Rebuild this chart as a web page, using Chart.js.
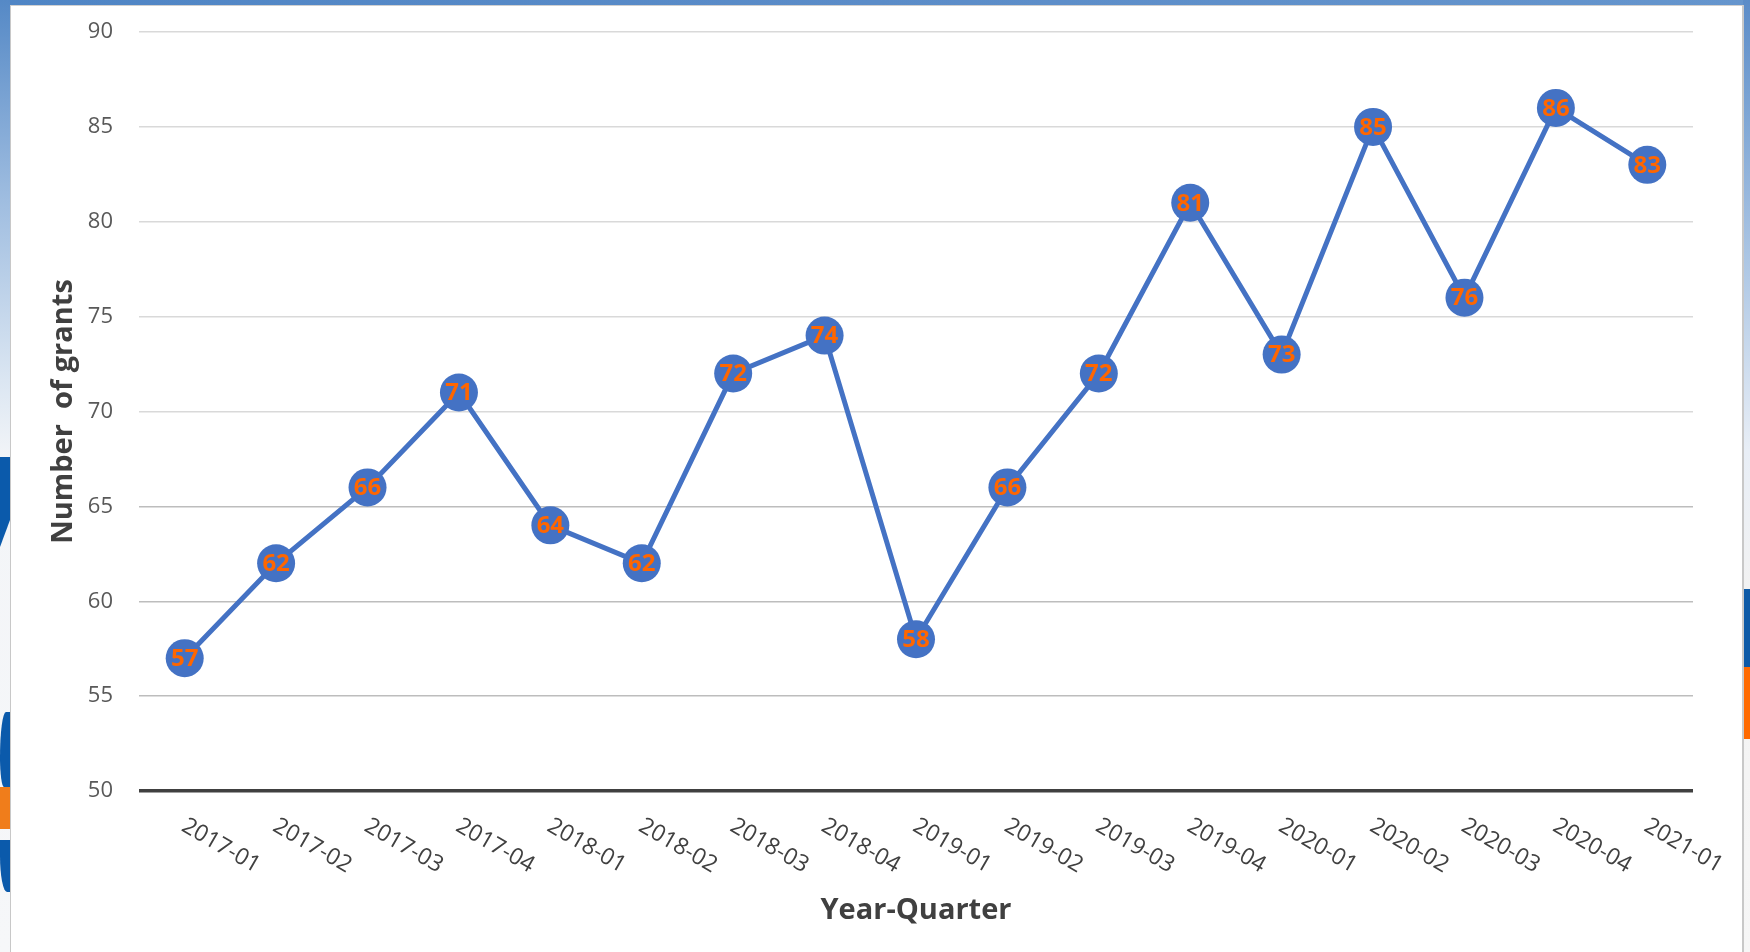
<!DOCTYPE html>
<html>
<head>
<meta charset="utf-8">
<script src="https://cdn.jsdelivr.net/npm/chart.js@4.4.1/dist/chart.umd.min.js"></script>
<style>
  html, body { margin: 0; padding: 0; width: 1750px; height: 952px; overflow: hidden; background: #ffffff; }
  .frame { position: absolute; }
  #topstrip { left: 0; top: 0; width: 1750px; height: 5px; background: linear-gradient(to right, #4f85c5, #5b8cc8 50%, #6595cd); }
  #leftstrip { left: 0; top: 0; width: 10px; height: 952px; background: linear-gradient(to bottom, #5589c6 0px, #9fbde0 200px, #dbe6f2 380px, #f3f5f8 460px, #f6f7f9 952px); }
  #rightstrip { left: 1743px; top: 0; width: 7px; height: 952px; background: linear-gradient(to bottom, #5b8cc8 0px, #a9c4e3 250px, #e8eef6 450px, #f2f2f2 590px, #f6f6f6 952px); }
  #panel { left: 10px; top: 5px; width: 1731px; height: 960px; background: #ffffff; border-left: 1px solid #c8c8c8; border-top: 1px solid #d0d0d0; border-right: 2px solid #c8c8c8; }
  #lblue1 { left: 0; top: 457px; width: 10px; height: 90px; background: #0b5aab; clip-path: polygon(0 0, 100% 0, 100% 70%, 0 100%); }
  #lblue2 { left: 0; top: 712px; width: 10px; height: 75px; background: #0b5aab; border-radius: 60% 0 0 40%; }
  #lorange { left: 0; top: 787px; width: 10px; height: 42px; background: #f07d1b; }
  #lblue3 { left: 0; top: 840px; width: 10px; height: 52px; background: #0b5aab; border-radius: 0 0 0 70%; }
  #rblue { left: 1743px; top: 589px; width: 7px; height: 78px; background: #0d5aa7; }
  #rorange { left: 1743px; top: 667px; width: 7px; height: 72px; background: #ff6a00; }
  #c { position: absolute; left: 0; top: 0; }
</style>
</head>
<body>
<div class="frame" id="topstrip"></div>
<div class="frame" id="leftstrip"></div>
<div class="frame" id="rightstrip"></div>
<div class="frame" id="lblue1"></div>
<div class="frame" id="lblue2"></div>
<div class="frame" id="lorange"></div>
<div class="frame" id="lblue3"></div>
<div class="frame" id="rblue"></div>
<div class="frame" id="rorange"></div>
<div class="frame" id="panel"></div>
<canvas id="c" width="1750" height="952"></canvas>
<script>
const categories = ["2017-01","2017-02","2017-03","2017-04","2018-01","2018-02","2018-03","2018-04",
                    "2019-01","2019-02","2019-03","2019-04","2020-01","2020-02","2020-03","2020-04","2021-01"];
const grants = [57, 62, 66, 71, 64, 62, 72, 74, 58, 66, 72, 81, 73, 85, 76, 86, 83];
const yTicksMin = 50;
const yTicksMax = 90;
const yTickStep = 5;
const xTitle = "Year-Quarter";
const yTitle = "Number  of grants";

const FONT = "'Open Sans', 'Noto Sans', sans-serif";

const decorPlugin = {
  id: 'decor',
  afterDatasetsDraw(chart) {
    const ctx = chart.ctx;
    const meta = chart.getDatasetMeta(0);
    ctx.save();
    ctx.font = "bold 24px " + FONT;
    ctx.fillStyle = "#FF6600";
    ctx.textAlign = "center";
    ctx.textBaseline = "middle";
    meta.data.forEach((pt, i) => {
      ctx.fillText(String(grants[i]), pt.x, pt.y + 1);
    });
    ctx.restore();
  },
  afterDraw(chart) {
    const ctx = chart.ctx;
    const xs = chart.scales.x;
    const area = chart.chartArea;
    ctx.save();
    ctx.font = "23px " + FONT;
    ctx.fillStyle = "#404040";
    ctx.textAlign = "left";
    ctx.textBaseline = "alphabetic";
    categories.forEach((c, i) => {
      const px = xs.getPixelForTick(i);
      ctx.save();
      ctx.translate(px - 4.5, area.bottom + 39);
      ctx.rotate(30 * Math.PI / 180);
      ctx.fillText(c, 0, 0);
      ctx.restore();
    });
    ctx.font = "bold 29px " + FONT;
    ctx.fillStyle = "#404040";
    ctx.textAlign = "center";
    ctx.textBaseline = "alphabetic";
    ctx.fillText(xTitle, (area.left + area.right) / 2, 919);
    ctx.save();
    ctx.translate(72, (area.top + area.bottom) / 2);
    ctx.rotate(-Math.PI / 2);
    ctx.fillText(yTitle, 0, 0);
    ctx.restore();
    ctx.restore();
  }
};

new Chart(document.getElementById('c'), {
  type: 'line',
  data: {
    labels: categories,
    datasets: [{
      data: grants,
      borderColor: '#4472C4',
      backgroundColor: '#4472C4',
      borderWidth: 5,
      pointRadius: 19,
      pointHoverRadius: 19,
      pointBackgroundColor: '#4472C4',
      pointBorderWidth: 0,
      tension: 0,
      fill: false
    }]
  },
  options: {
    responsive: false,
    devicePixelRatio: 1,
    animation: false,
    events: [],
    layout: { padding: { top: 32, right: 57, left: 0, bottom: 0 } },
    plugins: { legend: { display: false }, tooltip: { enabled: false }, title: { display: false } },
    scales: {
      x: {
        type: 'category',
        offset: true,
        grid: { display: false },
        border: { display: false },
        ticks: { display: false },
        afterFit(scale) { scale.height = 161; scale.paddingLeft = 0; scale.paddingRight = 0; }
      },
      y: {
        min: yTicksMin,
        max: yTicksMax,
        border: { display: false },
        grid: {
          drawTicks: false,
          color: ctx => ctx.tick && ctx.tick.value === yTicksMin ? '#404040' : (ctx.tick && ctx.tick.value <= 65 ? '#bdbdbd' : '#d9d9d9'),
          lineWidth: ctx => ctx.tick && ctx.tick.value === yTicksMin ? 3.5 : 1.5
        },
        ticks: {
          stepSize: yTickStep,
          padding: 26,
          color: '#595959',
          font: { family: FONT, size: 22 }
        },
        afterFit(scale) { scale.width = 139; scale.paddingTop = 0; scale.paddingBottom = 0; }
      }
    }
  },
  plugins: [decorPlugin]
});
</script>
</body>
</html>
